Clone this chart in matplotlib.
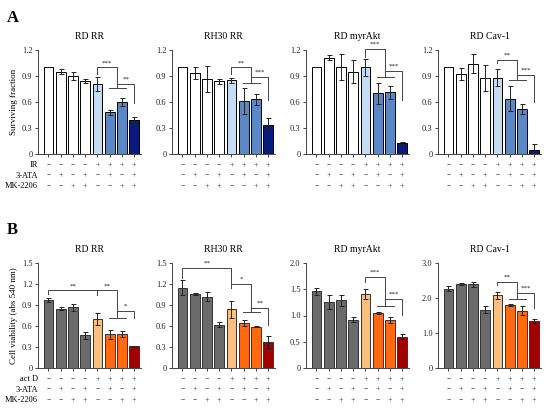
import matplotlib
matplotlib.use("Agg")
import matplotlib.pyplot as plt

plt.rcParams['font.family'] = ['Liberation Serif', 'DejaVu Serif']

# panel A: surviving fraction
a_titles = ['RD RR', 'RH30 RR', 'RD myrAkt', 'RD Cav-1']
a_means = [
    [1.00, 0.95, 0.90, 0.84, 0.81, 0.48, 0.60, 0.39],
    [1.00, 0.93, 0.86, 0.84, 0.85, 0.61, 0.63, 0.34],
    [1.00, 1.11, 1.00, 0.95, 1.00, 0.70, 0.71, 0.13],
    [1.00, 0.92, 1.04, 0.88, 0.88, 0.64, 0.52, 0.05],
]
a_errs = [
    [0.00, 0.03, 0.05, 0.02, 0.08, 0.03, 0.05, 0.04],
    [0.00, 0.07, 0.15, 0.03, 0.03, 0.15, 0.06, 0.08],
    [0.00, 0.03, 0.15, 0.13, 0.10, 0.12, 0.07, 0.01],
    [0.00, 0.07, 0.11, 0.15, 0.10, 0.14, 0.06, 0.06],
]
a_colors = ['white'] * 4 + ['#c6dcf2', '#5b87c5', '#5b87c5', '#0a1a7a']
a_rows = ['IR', '3-ATA', 'MK-2206']

# panel B: cell viability
b_titles = ['RD RR', 'RH30 RR', 'RD myrAkt', 'RD Cav-1']
b_means = [
    [0.97, 0.85, 0.87, 0.47, 0.70, 0.48, 0.49, 0.31],
    [1.15, 1.06, 1.02, 0.62, 0.84, 0.64, 0.59, 0.37],
    [1.46, 1.26, 1.29, 0.92, 1.41, 1.05, 0.92, 0.60],
    [2.27, 2.40, 2.39, 1.67, 2.08, 1.80, 1.64, 1.34],
]
b_errs = [
    [0.03, 0.02, 0.05, 0.05, 0.09, 0.07, 0.04, 0.01],
    [0.11, 0.01, 0.06, 0.04, 0.12, 0.04, 0.01, 0.09],
    [0.07, 0.13, 0.11, 0.05, 0.10, 0.02, 0.06, 0.04],
    [0.07, 0.04, 0.07, 0.10, 0.10, 0.02, 0.12, 0.06],
]
b_colors = ['#6b6b6b'] * 4 + ['#fbbf80', '#ff6a10', '#ff6a10', '#a00000']
b_rows = ['act D', '3-ATA', 'MK-2206']
b_ymax = [1.5, 1.5, 2.0, 3.0]
b_ticks = [[0, 0.3, 0.6, 0.9, 1.2, 1.5], [0, 0.3, 0.6, 0.9, 1.2, 1.5],
           [0, 0.5, 1.0, 1.5, 2.0], [0, 1.0, 2.0, 3.0]]
b_ticklabels = [['0', '0.3', '0.6', '0.9', '1.2', '1.5'],
                ['0', '0.3', '0.6', '0.9', '1.2', '1.5'],
                ['0', '0.5', '1.0', '1.5', '2.0'],
                ['0', '1.0', '2.0', '3.0']]

signs = [
    ['−', '−', '−', '−', '+', '+', '+', '+'],
    ['−', '+', '−', '+', '−', '+', '−', '+'],
    ['−', '−', '+', '+', '−', '−', '+', '+'],
]

# brackets: (x1, x2, top, leg1 bottom, leg2 bottom, label)
a_brackets = [
    [(4, 5.6, 1.00, 0.92, 0.76, '***'), (5.6, 7, 0.81, 0.76, 0.59, '**')],
    [(4, 5.6, 1.00, 0.92, 0.82, '**'), (5.6, 7, 0.89, 0.82, 0.62, '***')],
    [(4, 5.6, 1.21, 1.12, 0.89, '***'), (5.6, 7, 0.96, 0.89, 0.62, '***')],
    [(4, 5.6, 1.09, 1.05, 0.85, '**'), (5.6, 7, 0.91, 0.85, 0.60, '***')],
]
b_brackets = [
    [(0, 4, 1.11, 1.06, 1.05, '**'), (4, 5.6, 1.11, 1.05, 0.71, '**'),
     (5.6, 7, 0.82, 0.71, 0.71, '*')],
    [(0, 4, 1.43, 1.29, 1.14, '**'), (4, 5.6, 1.20, 1.14, 0.80, '*'),
     (5.6, 7, 0.86, 0.80, 0.61, '**')],
    [(4, 5.6, 1.73, 1.64, 1.18, '***'), (5.6, 7, 1.31, 1.18, 1.01, '***')],
    [(4, 5.6, 2.46, 2.37, 1.97, '**'), (5.6, 7, 2.14, 1.97, 1.71, '***')],
]

fig = plt.figure(figsize=(5.5, 4.09), dpi=100)
W, H = 550, 409
lefts = [38, 172, 306, 438]
ax_w = 103
edge = '#444444'
x = list(range(8))


def draw_panel(ax, means, errs, colors, ymax, ticks, ticklabels, title,
               brackets, rows, show_rows, edgecol):
    ax.bar(x, means, width=0.8, color=colors, edgecolor=edgecol, linewidth=0.7,
           yerr=errs, error_kw=dict(ecolor='#222222', elinewidth=0.7,
                                    capsize=1.8, capthick=0.7), zorder=2)
    ax.set_xlim(-0.85, 7.55)
    ax.set_ylim(0, ymax)
    ax.set_yticks(ticks)
    ax.set_yticklabels(ticklabels)
    ax.set_xticks(x)
    ax.set_xticklabels([])
    for s in ['top', 'right']:
        ax.spines[s].set_visible(False)
    for s in ['left', 'bottom']:
        ax.spines[s].set_color(edge)
        ax.spines[s].set_linewidth(0.7)
    ax.tick_params(axis='both', colors=edge, width=0.7, length=2.5,
                   labelsize=6, labelcolor='#222222', pad=1.5)
    ax.set_title(title, fontsize=7, pad=8)
    for (x1, x2, top, b1, b2, lab) in brackets:
        ax.plot([x1, x1, x2, x2], [b1, top, top, b2], color=edge, lw=0.7,
                clip_on=False, zorder=3)
        ax.text((x1 + x2) / 2, top + ymax * 0.02, lab, ha='center',
                va='bottom', fontsize=5, color='#222222')
    # group line over bars 6-7
    g = [b for b in brackets if b[1] == 5.6][0][4]
    ax.plot([4.9, 6.3], [g, g], color=edge, lw=0.7, zorder=3)
    axh = ax.get_position().height * H
    for r, row in enumerate(signs):
        yy = -(11 + 10.5 * r) / axh
        for i, s in enumerate(row):
            ax.text(i, yy, s, transform=ax.get_xaxis_transform(), ha='center',
                    va='center', fontsize=5.5, color='#333333')
        if show_rows:
            ax.text(0.0, yy, rows[r], transform=ax.transAxes,
                    ha='right', va='center', fontsize=6)


for k in range(4):
    ax = fig.add_axes([lefts[k] / W, 1 - 154 / H, ax_w / W, 104 / H])
    draw_panel(ax, a_means[k], a_errs[k], a_colors, 1.2,
               [0, 0.3, 0.6, 0.9, 1.2], ['0', '0.3', '0.6', '0.9', '1.2'],
               a_titles[k], a_brackets[k], a_rows, k == 0, 'black')
    if k == 0:
        ax.set_ylabel('Surviving fraction', fontsize=6.5, labelpad=3)

for k in range(4):
    ax = fig.add_axes([lefts[k] / W, 1 - 368 / H, ax_w / W, 105 / H])
    draw_panel(ax, b_means[k], b_errs[k], b_colors, b_ymax[k], b_ticks[k],
               b_ticklabels[k], b_titles[k], b_brackets[k], b_rows, k == 0,
               '#333333')
    if k == 0:
        ax.set_ylabel('Cell viability (abs 540 nm)', fontsize=6.5, labelpad=3)

fig.text(7 / W, 1 - 10 / H, 'A', fontsize=12, fontweight='bold',
         ha='left', va='top')
fig.text(7 / W, 1 - 222 / H, 'B', fontsize=12, fontweight='bold',
         ha='left', va='top')

fig.savefig('out.png', dpi=100)
